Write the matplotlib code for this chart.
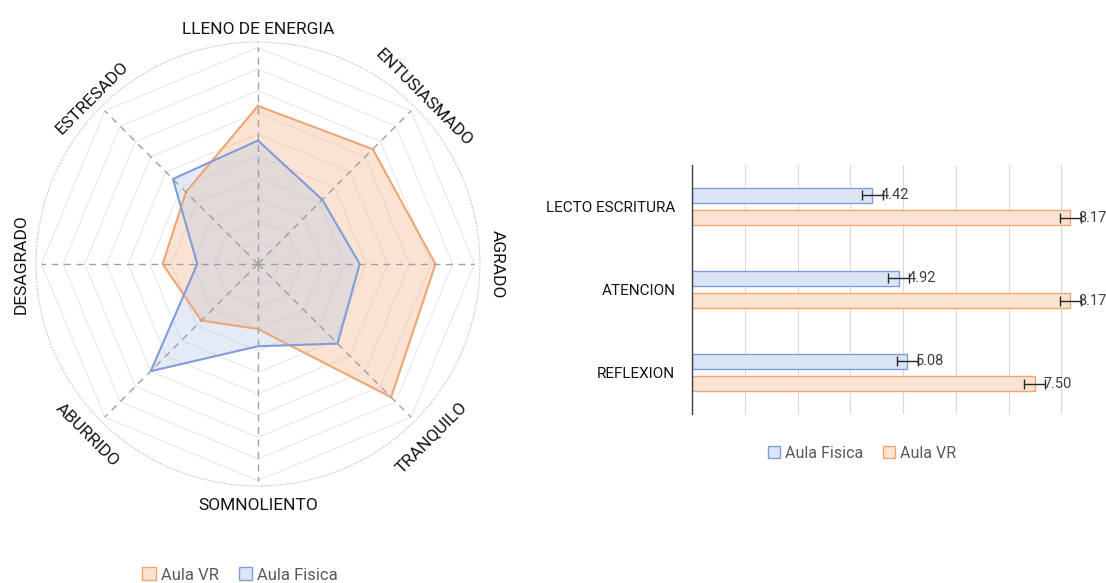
import numpy as np
import matplotlib.pyplot as plt
from matplotlib.patches import Patch

# radar data (scale 0-10), clockwise from the top
emociones = ["LLENO DE ENERGIA", "ENTUSIASMADO", "AGRADO", "TRANQUILO",
             "SOMNOLIENTO", "ABURRIDO", "DESAGRADO", "ESTRESADO"]
radar_vr = [7.3, 7.5, 8.2, 8.7, 3.0, 3.7, 4.4, 4.7]
radar_fisica = [5.7, 4.2, 4.7, 5.2, 3.8, 7.0, 2.8, 5.55]

# bar data
habilidades = ["LECTO ESCRITURA", "ATENCION", "REFLEXION"]
bar_fisica = [4.42, 4.92, 5.08]
bar_vr = [8.17, 8.17, 7.50]
err_fisica = [0.2, 0.2, 0.2]
err_vr = [0.2, 0.2, 0.2]

ORANGE_EDGE = "#f0a672"
ORANGE_FILL = "#fbe3d2"
BLUE_EDGE = "#7f9ddb"
BLUE_FILL = "#dce5f5"
TXT = "#151515"

plt.rcParams["font.family"] = ["Roboto", "DejaVu Sans"]

fig = plt.figure(figsize=(11.06, 5.83), dpi=100)

# ---------------- radar ----------------
ax = fig.add_axes([0.0325, 0.1664, 0.4014, 0.7616], projection="polar")
ax.set_theta_zero_location("N")
ax.set_theta_direction(-1)
ax.set_ylim(0, 10.25)
ax.grid(False)
ax.set_xticks([])
ax.set_yticks([])
ax.spines["polar"].set_linestyle((0, (1, 2)))
ax.spines["polar"].set_color("#cfcfcf")
ax.spines["polar"].set_linewidth(0.8)

n = len(emociones)
theta = np.linspace(0, 2 * np.pi, n, endpoint=False)
theta_c = np.append(theta, theta[0])

for lvl in range(1, 11):
    ax.plot(theta_c, [lvl] * (n + 1), color="#e8e8e8", lw=0.8, zorder=1)
for t in theta:
    ax.plot([t, t], [0, 10], color="#a0a0a0", lw=1.0, ls=(0, (5, 4)), zorder=4)

vr_c = radar_vr + radar_vr[:1]
fis_c = radar_fisica + radar_fisica[:1]
ax.fill(theta_c, vr_c, color="#f4b183", alpha=0.35, lw=0, zorder=2)
ax.fill(theta_c, fis_c, color="#b4c7e7", alpha=0.35, lw=0, zorder=2)
ax.plot(theta_c, vr_c, color=ORANGE_EDGE, lw=1.5, zorder=3)
ax.plot(theta_c, fis_c, color=BLUE_EDGE, lw=1.5, zorder=3)

label_r = [10.85, 10.85, 11.05, 11.3, 11.15, 11.15, 10.95, 10.85]
for t, lab, r in zip(theta, emociones, label_r):
    phi = (90 - np.degrees(t) + 180) % 360 - 180
    rot = phi + 90 if -180 < phi < 0 else phi - 90
    ax.text(t, r, lab, rotation=rot, ha="center", va="center", fontsize=12.5, color=TXT)

ax.legend(handles=[Patch(facecolor=ORANGE_FILL, edgecolor=ORANGE_EDGE, label="Aula VR"),
                   Patch(facecolor=BLUE_FILL, edgecolor=BLUE_EDGE, label="Aula Fisica")],
          loc="center", bbox_to_anchor=(240 / 1106, 1 - 575 / 583), bbox_transform=fig.transFigure,
          ncol=2, frameon=False, fontsize=12, handlelength=0.8, handleheight=0.8,
          handletextpad=0.3, columnspacing=1.2, labelcolor="#595959")

# ---------------- bars ----------------
bx = fig.add_axes([0.6257, 0.2899, 0.3816, 0.4271])
y = np.arange(len(habilidades))
h = 0.18
off = 0.138
bx.barh(y - off, np.array(bar_fisica) - 1, h, left=1, color=BLUE_FILL, edgecolor=BLUE_EDGE, lw=1.0,
        label="Aula Fisica", zorder=2)
bx.barh(y + off, np.array(bar_vr) - 1, h, left=1, color=ORANGE_FILL, edgecolor=ORANGE_EDGE, lw=1.0,
        label="Aula VR", zorder=2)
bx.errorbar(bar_fisica, y - off, xerr=err_fisica, fmt="none", ecolor="#262626", elinewidth=1.0,
            capsize=3.5, capthick=1.0, zorder=3)
bx.errorbar(bar_vr, y + off, xerr=err_vr, fmt="none", ecolor="#262626", elinewidth=1.0,
            capsize=3.5, capthick=1.0, zorder=3)
for yy, v, e in zip(y - off, bar_fisica, err_fisica):
    bx.text(v + e - 0.04, yy, f"{v:.2f}", va="center", ha="left", fontsize=10.5, color="#404040")
for yy, v, e in zip(y + off, bar_vr, err_vr):
    bx.text(v + e - 0.04, yy, f"{v:.2f}", va="center", ha="left", fontsize=10.5, color="#404040")

bx.set_xlim(1, 9)
bx.set_ylim(2.5, -0.5)
bx.set_xticks(range(1, 9))
bx.set_xticklabels([])
bx.tick_params(axis="x", length=0)
bx.tick_params(axis="y", length=0, pad=12)
bx.set_yticks(y)
bx.set_yticklabels(habilidades, fontsize=11, color=TXT)
bx.grid(axis="x", color="#dadada", lw=0.8, zorder=0)
bx.set_axisbelow(True)
for s in ["top", "right", "bottom"]:
    bx.spines[s].set_visible(False)
bx.spines["left"].set_color("#404040")
bx.spines["left"].set_linewidth(1.0)

bx.legend(handles=[Patch(facecolor=BLUE_FILL, edgecolor=BLUE_EDGE, label="Aula Fisica"),
                   Patch(facecolor=ORANGE_FILL, edgecolor=ORANGE_EDGE, label="Aula VR")],
          loc="center", bbox_to_anchor=(862 / 1106, 1 - 453 / 583), bbox_transform=fig.transFigure,
          ncol=2, frameon=False, fontsize=11.5, handlelength=0.8, handleheight=0.8,
          handletextpad=0.3, columnspacing=1.2, labelcolor="#595959")

fig.savefig("out.png", dpi=100)
